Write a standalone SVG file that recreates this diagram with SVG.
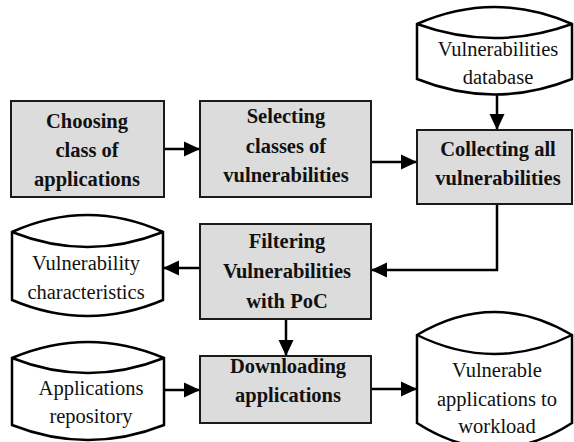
<svg xmlns="http://www.w3.org/2000/svg" width="574" height="442" viewBox="0 0 574 442">
<defs>
<marker id="ah" markerUnits="userSpaceOnUse" markerWidth="17" markerHeight="16" refX="16" refY="8" orient="auto">
<path d="M0,0.5 L16,8 L0,15.5 Z" fill="#000"/>
</marker>
<style>
.box{fill:#dcdcdc;stroke:#1a1a1a;stroke-width:2}
.cyl{fill:#fff;stroke:#000;stroke-width:2.5;stroke-linejoin:miter}
.cin{fill:none;stroke:#000;stroke-width:2.5}
text{font-family:'Liberation Serif','Times New Roman',serif;font-size:20.5px;fill:#111;text-anchor:middle}
.bt{font-weight:bold}
.con{fill:none;stroke:#000;stroke-width:2.5;marker-end:url(#ah)}
</style>
</defs>
<rect width="574" height="442" fill="#fff"/>
<g id="connectors">
<path class="con" d="M164,149 H200"/>
<path class="con" d="M371,162 H417"/>
<path class="con" d="M497,94 V130"/>
<path class="con" d="M497,204 V270 H371"/>
<path class="con" d="M200,268 H163"/>
<path class="con" d="M286,319 V356"/>
<path class="con" d="M165,390 H200"/>
<path class="con" d="M371,389 H417"/>
</g>
<g id="choosing">
<rect class="box" x="11" y="101" width="153" height="96"/>
<text class="bt" x="87" y="128">Choosing</text>
<text class="bt" x="87" y="157">class of</text>
<text class="bt" x="87" y="186">applications</text>
</g>
<g id="selecting">
<rect class="box" x="200" y="101" width="171" height="96"/>
<text class="bt" x="286" y="123">Selecting</text>
<text class="bt" x="286" y="153">classes of</text>
<text class="bt" x="286" y="182">vulnerabilities</text>
</g>
<g id="vulndb">
<path class="cyl" d="M417,24 Q494.5,-10 572,24 L572,79 Q494.5,110 417,79 Z"/>
<path class="cin" d="M417,24 Q494.5,52 572,24"/>
<text x="498" y="56">Vulnerabilities</text>
<text x="498" y="84">database</text>
</g>
<g id="collecting">
<rect class="box" x="417" y="130" width="155" height="74"/>
<text class="bt" x="498" y="156">Collecting all</text>
<text class="bt" x="498" y="185">vulnerabilities</text>
</g>
<g id="vulnchar">
<path class="cyl" d="M12,232 Q87.5,198 163,232 L163,300 Q87.5,332 12,300 Z"/>
<path class="cin" d="M12,232 Q87.5,262 163,232"/>
<text x="86" y="270">Vulnerability</text>
<text x="86" y="299">characteristics</text>
</g>
<g id="filtering">
<rect class="box" x="200" y="224" width="171" height="95"/>
<text class="bt" x="287" y="248">Filtering</text>
<text class="bt" x="287" y="278">Vulnerabilities</text>
<text class="bt" x="287" y="308">with PoC</text>
</g>
<g id="appsrepo">
<path class="cyl" d="M12,358 Q88,326 164,358 L164,425 Q88,455 12,425 Z"/>
<path class="cin" d="M12,358 Q88,388 164,358"/>
<text x="91" y="395">Applications</text>
<text x="91" y="423">repository</text>
</g>
<g id="downloading">
<rect class="box" x="200" y="356" width="171" height="67"/>
<text class="bt" x="288" y="373">Downloading</text>
<text class="bt" x="288" y="402">applications</text>
</g>
<g id="vulnapps">
<path class="cyl" d="M417,335 Q494.5,289 572,335 L572,423 Q494.5,473 417,423 Z"/>
<path class="cin" d="M417,335 Q494.5,373 572,335"/>
<text x="497" y="377">Vulnerable</text>
<text x="497" y="406">applications to</text>
<text x="497" y="433">workload</text>
</g>
</svg>
